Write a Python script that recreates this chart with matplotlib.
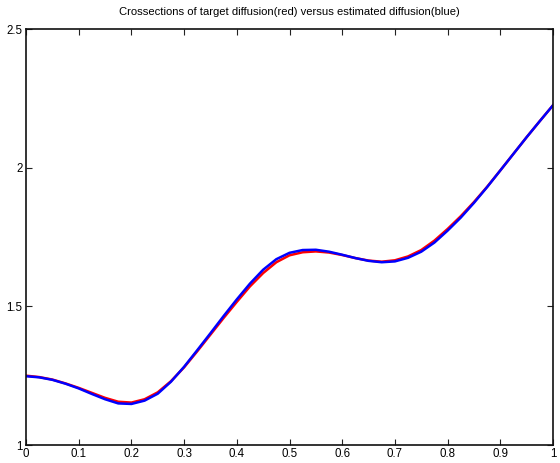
import numpy as np
import matplotlib
matplotlib.use("Agg")
import matplotlib.pyplot as plt

plt.rcParams['font.family'] = ['Liberation Sans', 'DejaVu Sans']

x = np.linspace(0, 1, 41)

target = [1.250, 1.245, 1.236, 1.222, 1.206, 1.188, 1.170, 1.156, 1.153, 1.165,
          1.190, 1.230, 1.280, 1.338, 1.398, 1.458, 1.516, 1.572, 1.620, 1.659,
          1.684, 1.695, 1.698, 1.694, 1.685, 1.674, 1.665, 1.661, 1.666, 1.680,
          1.703, 1.737, 1.779, 1.825, 1.876, 1.931, 1.990, 2.050, 2.110, 2.168,
          2.225]

estimated = [1.248, 1.244, 1.235, 1.221, 1.204, 1.184, 1.165, 1.150, 1.148, 1.160,
             1.185, 1.228, 1.282, 1.342, 1.403, 1.465, 1.525, 1.582, 1.632, 1.670,
             1.693, 1.703, 1.704, 1.697, 1.686, 1.674, 1.664, 1.659, 1.662, 1.675,
             1.697, 1.730, 1.773, 1.820, 1.873, 1.930, 1.990, 2.050, 2.110, 2.168,
             2.225]

xticks = [0, 0.1, 0.2, 0.3, 0.4, 0.5, 0.6, 0.7, 0.8, 0.9, 1]
xticklabels = ['0', '0.1', '0.2', '0.3', '0.4', '0.5', '0.6', '0.7', '0.8', '0.9', '1']
yticks = [1, 1.5, 2, 2.5]
yticklabels = ['1', '1.5', '2', '2.5']

fig = plt.figure(figsize=(5.6, 4.63), dpi=100)
ax = fig.add_axes([26/560, 18/463, 527/560, 416/463])

ax.plot(x, target, color='#ff0000', lw=1.8)
ax.plot(x, estimated, color='#0000ff', lw=1.8)

ax.set_xlim(0, 1)
ax.set_ylim(1, 2.5)
ax.set_xticks(xticks)
ax.set_xticklabels(xticklabels)
ax.set_yticks(yticks)
ax.set_yticklabels(yticklabels)
ax.tick_params(direction='in', top=True, right=True, length=4, width=0.8,
               labelsize=8.3, pad=2.5, color='#222222')
for s in ax.spines.values():
    s.set_linewidth(1.2)
    s.set_color('#111111')

ax.set_title('Crossections of target diffusion(red) versus estimated diffusion(blue)',
             fontsize=8.1, pad=10)

fig.savefig('out.png', dpi=100)
